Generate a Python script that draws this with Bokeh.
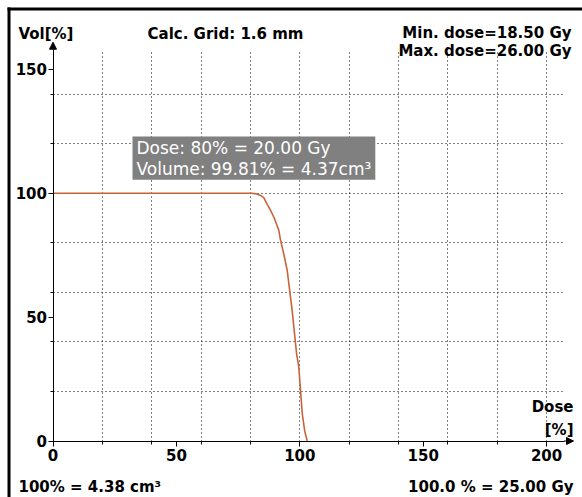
from bokeh.plotting import figure
from bokeh.models import (Range1d, FixedTicker, Label, Arrow, NormalHead,
                          LinearAxis, Grid, BoxAnnotation)
from bokeh.embed import file_html
from bokeh.resources import INLINE

# ---- data ----
dose_pct = [0, 80.5, 82.5, 84.1, 85.4, 86.8, 88.1, 89.5, 90.6, 91.5, 92.2,
            93.5, 94.9, 96.0, 96.9, 97.6, 98.7, 99.6, 100.3, 101.0, 102.0, 103.0]
volume_pct = [100, 100, 99.7, 99.1, 98.2, 95.5, 93.2, 90.3, 87.5, 85.0, 81.0,
              75.5, 68.8, 60.0, 52.7, 45.9, 35.2, 29.8, 20.4, 11.0, 4.0, 0]

x_major = [0, 50, 100, 150, 200]
x_minor = [20, 40, 60, 80, 100, 120, 140, 160, 180, 200]
y_major = [0, 50, 100, 150]
y_minor = [20, 40, 60, 80, 100, 120, 140]

cursor_dose = 80
cursor_volume = 99.81

title_text = "Calc. Grid: 1.6 mm"
y_title = "Vol[%]"
x_title_1 = "Dose"
x_title_2 = "[%]"
min_dose_text = "Min. dose=18.50 Gy"
max_dose_text = "Max. dose=26.00 Gy"
vol_ref_text = "100% = 4.38 cm\u00b3"
dose_ref_text = "100.0 % = 25.00 Gy"
tooltip_text = "Dose: 80% = 20.00 Gy\nVolume: 99.81% = 4.37cm\u00b3"

# ---- geometry (pixel layout of the panel) ----
W, H = 582, 497
OX, OY = 52.5, 440.5          # pixel position of the data origin
SX, SY = 2.468, 2.478         # pixels per data unit


def dx(px):
    return (px - OX) / SX


def dy(py):
    return (OY - py) / SY


FONT = "DejaVu Sans"

p = figure(width=W, height=H, output_backend="svg", toolbar_location=None,
           x_range=Range1d(dx(0), dx(W)), y_range=Range1d(dy(H), dy(0)),
           x_axis_location=None, y_axis_location=None,
           min_border=0, min_border_left=0, min_border_right=0,
           min_border_top=0, min_border_bottom=0)
p.outline_line_color = None
p.background_fill_color = "white"
p.border_fill_color = "white"
p.grid.visible = False

xt = FixedTicker(ticks=x_major, minor_ticks=x_minor)
yt = FixedTicker(ticks=y_major, minor_ticks=y_minor)

x_axis_end = dx(563.5)
y_axis_end = dy(49)

xaxis = LinearAxis(ticker=xt, fixed_location=0, bounds=(0, x_axis_end))
yaxis = LinearAxis(ticker=yt, fixed_location=0, bounds=(0, y_axis_end))
for ax in (xaxis, yaxis):
    ax.axis_line_color = "black"
    ax.axis_line_width = 1
    ax.major_tick_line_color = "black"
    ax.minor_tick_line_color = "black"
    ax.major_tick_in = 0
    ax.major_tick_out = 5
    ax.minor_tick_in = 0
    ax.minor_tick_out = 3
    ax.major_label_text_font = FONT
    ax.major_label_text_font_size = "15px"
    ax.major_label_text_font_style = "bold"
    ax.major_label_text_color = "black"
xaxis.major_label_standoff = 3
yaxis.major_label_standoff = 1
p.add_layout(xaxis, "below")
p.add_layout(yaxis, "left")

xgrid = Grid(dimension=0, ticker=xt, bounds=(0, x_axis_end), cross_bounds=(0, y_axis_end))
ygrid = Grid(dimension=1, ticker=yt, bounds=(0, y_axis_end), cross_bounds=(0, x_axis_end))
for g in (xgrid, ygrid):
    g.grid_line_color = None
    g.minor_grid_line_color = "black"
    g.minor_grid_line_dash = "1 3"
    g.minor_grid_line_width = 1
    p.add_layout(g)

# window frame (left and top edge)
p.add_layout(BoxAnnotation(left=dx(7), right=dx(10), top=dy(7), bottom=dy(H),
                           fill_color="black", fill_alpha=1, line_color=None))
p.add_layout(BoxAnnotation(left=dx(7), right=dx(W), top=dy(7), bottom=dy(10),
                           fill_color="black", fill_alpha=1, line_color=None))

p.line(dose_pct, volume_pct, line_color="#c9643a", line_width=1.6)

# axis arrows
p.add_layout(Arrow(end=NormalHead(size=7, fill_color="black", line_color="black", line_width=1),
                   x_start=0, y_start=y_axis_end, x_end=0, y_end=dy(41.7),
                   line_color="black", line_width=1))
p.add_layout(Arrow(end=NormalHead(size=7, fill_color="black", line_color="black", line_width=1),
                   x_start=x_axis_end, y_start=0, x_end=dx(573), y_end=0,
                   line_color="black", line_width=1))


def px_label(text, px, py, align):
    return Label(x=dx(px), y=dy(py), text=text,
                 text_align=align, text_baseline="alphabetic",
                 text_font=FONT, text_font_size="15px", text_font_style="bold",
                 text_color="black")


p.add_layout(px_label(y_title, 18, 33, "left"))
p.add_layout(px_label(title_text, 225, 33, "center"))
p.add_layout(px_label(min_dose_text, 571, 32, "right"))
p.add_layout(px_label(max_dose_text, 571, 50, "right"))
p.add_layout(px_label(x_title_1, 573, 406, "right"))
p.add_layout(px_label(x_title_2, 573, 429, "right"))
p.add_layout(px_label(vol_ref_text, 18, 486, "left"))
p.add_layout(px_label(dose_ref_text, 573, 486, "right"))

# cursor read-out box
p.add_layout(Label(x=cursor_dose, y=cursor_volume,
                   x_offset=132 - (OX + cursor_dose * SX),
                   y_offset=(OY - cursor_volume * SY) - 136,
                   text=tooltip_text, text_align="left", text_baseline="top",
                   text_color="white", text_font=FONT, text_font_size="17px",
                   text_line_height=1.06,
                   background_fill_color="#808080",
                   padding=dict(left=4, right=4, top=1, bottom=1)))

open("out.html", "w").write(file_html(p, INLINE))
